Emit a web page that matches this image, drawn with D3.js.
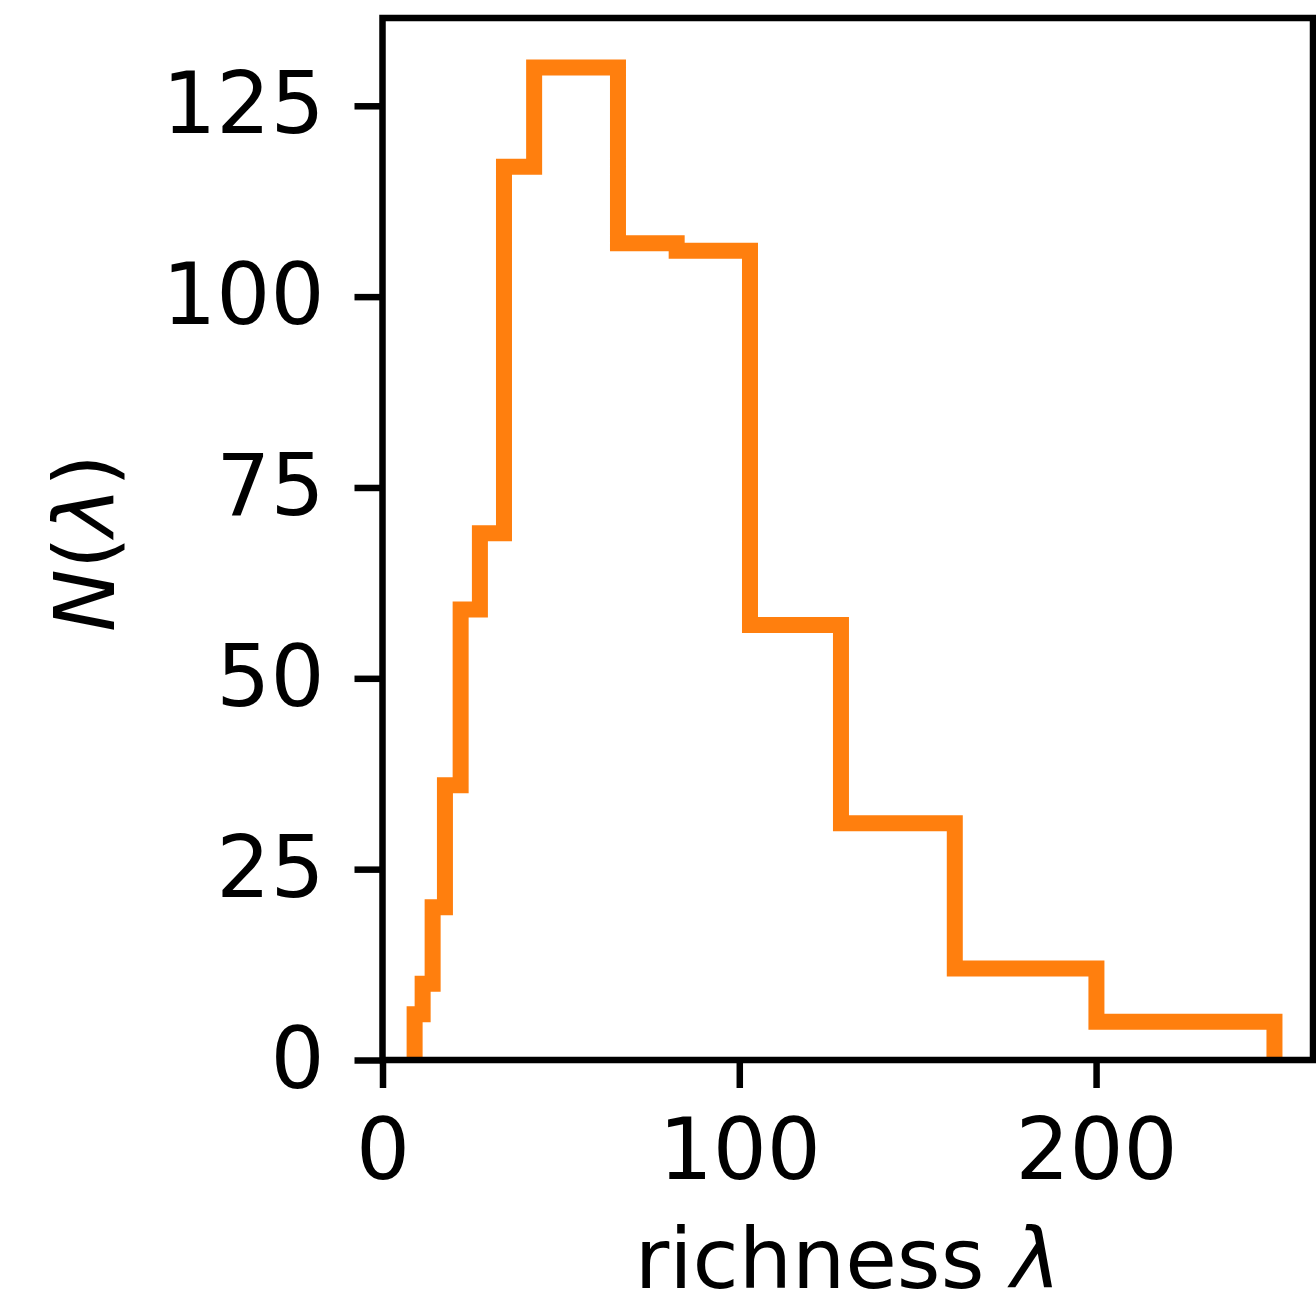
<!DOCTYPE html>
<html>
<head>
<meta charset="utf-8">
<script src="https://cdn.jsdelivr.net/npm/d3@7"></script>
<style>
  body { margin: 0; background: #fff; }
  text { font-family: "DejaVu Sans", sans-serif; fill: #000; }
</style>
</head>
<body>
<svg id="chart" width="1316" height="1303"></svg>
<script>
// bin edges of the richness histogram (log spaced)
var binEdges = [9, 11.25, 14.05, 17.5, 21.9, 27.3, 34.05, 42.5, 53, 66, 82.45, 103, 128.5, 160.4, 200.1, 250];
// counts per bin
var binCounts = [6, 10, 20, 36, 59, 69, 117, 130, 130, 107, 106, 57, 31, 12, 5];
var xTicks = [0, 100, 200];
var yTicks = [0, 25, 50, 75, 100, 125];

var margin = {left: 382.5, right: 3, top: 18, bottom: 243};
var width = 1316, height = 1303;

var svg = d3.select("#chart");

var x = d3.scaleLinear()
    .domain([0, 260.8])
    .range([margin.left, width - margin.right]);

var y = d3.scaleLinear()
    .domain([0, 136.5])
    .range([height - margin.bottom, margin.top]);

// step outline like matplotlib histtype='step'
var pts = [[binEdges[0], 0]];
for (var i = 0; i < binCounts.length; i++) {
  pts.push([binEdges[i], binCounts[i]]);
  pts.push([binEdges[i + 1], binCounts[i]]);
}
pts.push([binEdges[binEdges.length - 1], 0]);

var line = d3.line()
    .x(function(d) { return x(d[0]); })
    .y(function(d) { return y(d[1]); });

svg.append("path")
    .datum(pts)
    .attr("d", line)
    .attr("fill", "none")
    .attr("stroke", "#ff7f0e")
    .attr("stroke-width", 16)
    .attr("stroke-linejoin", "miter");

var tickLen = 28, tickW = 6.5, fontSize = 85;

// y axis
var yAxis = d3.axisLeft(y)
    .tickValues(yTicks)
    .tickSize(tickLen)
    .tickPadding(30)
    .tickFormat(d3.format("d"));

var gy = svg.append("g")
    .attr("transform", "translate(" + margin.left + ",0)")
    .call(yAxis);
gy.select(".domain").remove();
gy.selectAll(".tick line").attr("stroke", "#000").attr("stroke-width", tickW);
gy.selectAll(".tick text")
    .attr("font-size", fontSize)
    .attr("font-family", "DejaVu Sans")
    .attr("fill", "#000");

// x axis
var xAxis = d3.axisBottom(x)
    .tickValues(xTicks)
    .tickSize(tickLen)
    .tickPadding(31)
    .tickFormat(d3.format("d"));

var gx = svg.append("g")
    .attr("transform", "translate(0," + (height - margin.bottom) + ")")
    .call(xAxis);
gx.select(".domain").remove();
gx.selectAll(".tick line").attr("stroke", "#000").attr("stroke-width", tickW);
gx.selectAll(".tick text")
    .attr("font-size", fontSize)
    .attr("font-family", "DejaVu Sans")
    .attr("fill", "#000");

// spines
svg.append("rect")
    .attr("x", margin.left)
    .attr("y", margin.top)
    .attr("width", width - margin.right - margin.left)
    .attr("height", height - margin.bottom - margin.top)
    .attr("fill", "none")
    .attr("stroke", "#000")
    .attr("stroke-width", tickW)
    .attr("stroke-linejoin", "miter");

// x label
var xl = svg.append("text")
    .attr("x", (margin.left + width - margin.right) / 2)
    .attr("y", 1288)
    .attr("text-anchor", "middle")
    .attr("font-size", 84);
xl.append("tspan").text("richness ");
xl.append("tspan").attr("font-style", "italic").text("λ");

// y label
var yl = svg.append("text")
    .attr("transform", "translate(114," + ((margin.top + height - margin.bottom) / 2 + 4) + ") rotate(-90)")
    .attr("text-anchor", "middle")
    .attr("font-size", 84);
yl.append("tspan").attr("font-style", "italic").text("N");
yl.append("tspan").text("(");
yl.append("tspan").attr("font-style", "italic").text("λ");
yl.append("tspan").text(")");
</script>
</body>
</html>
